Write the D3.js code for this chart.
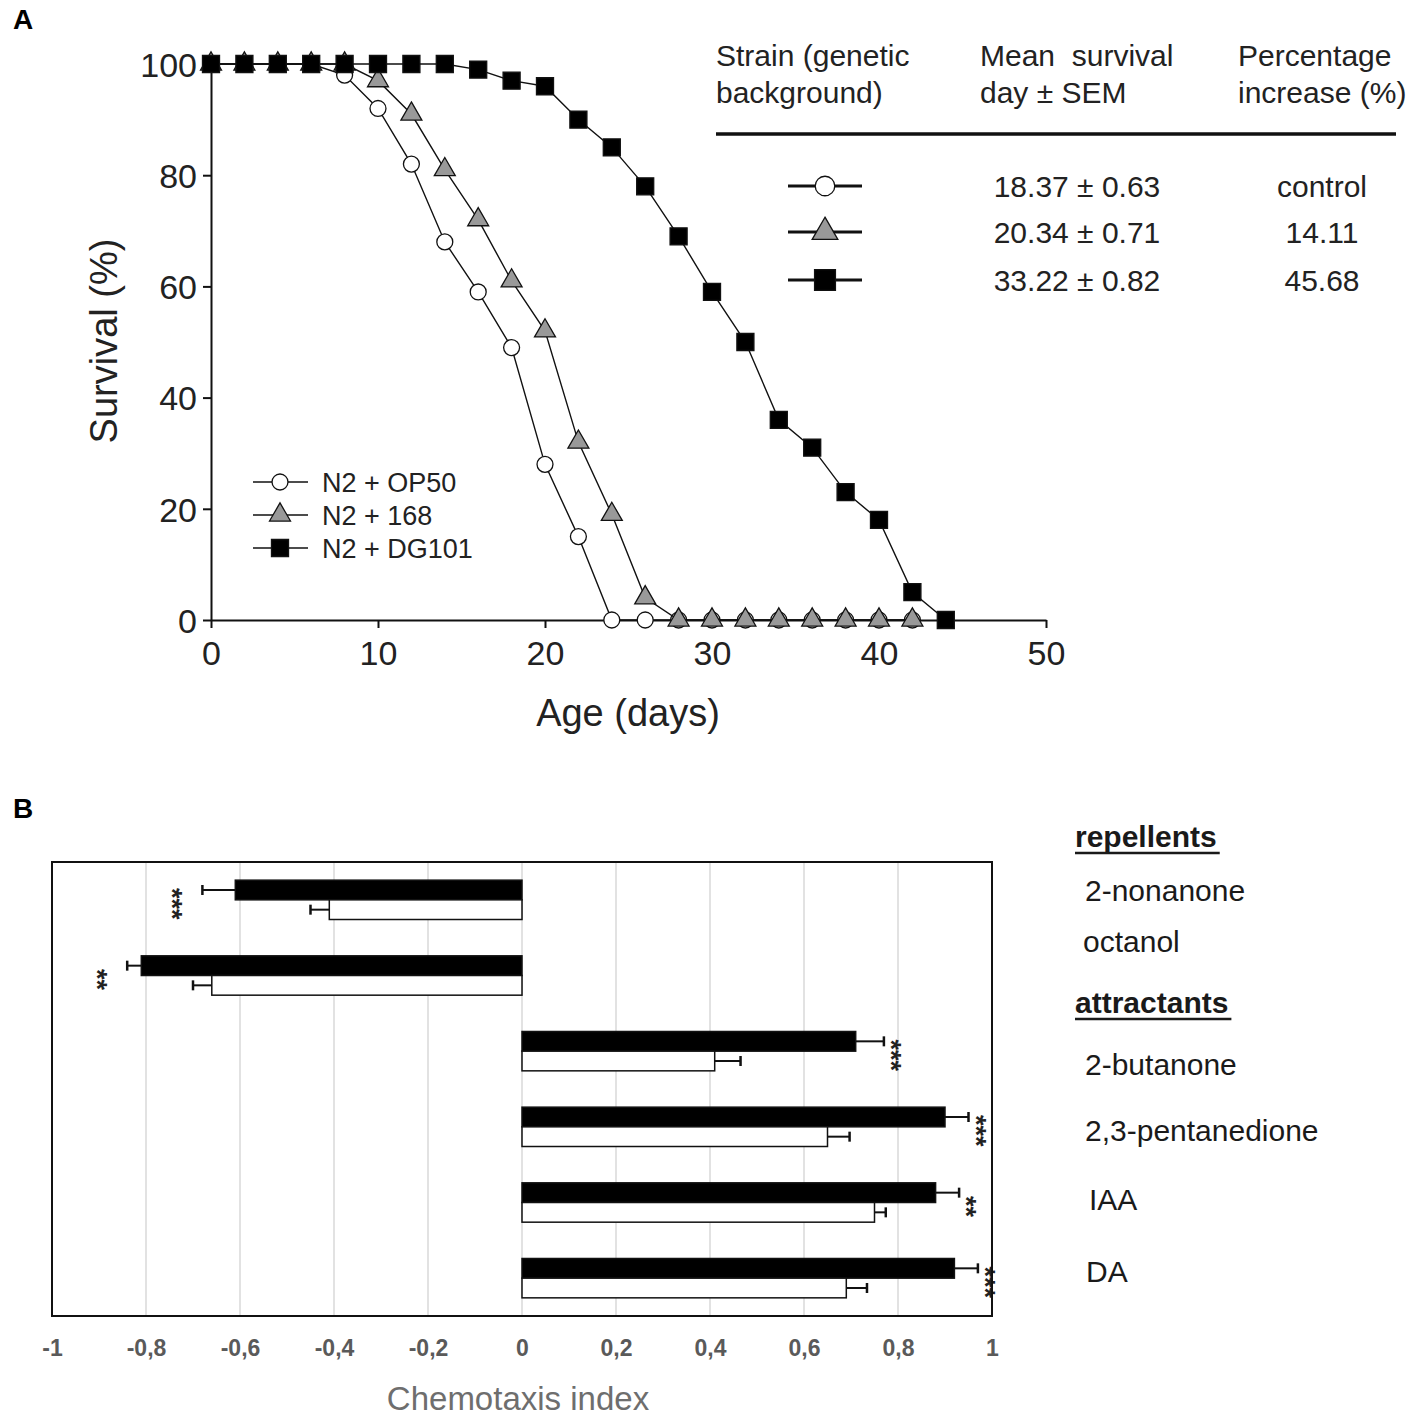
<!DOCTYPE html>
<html>
<head>
<meta charset="utf-8">
<script src="https://cdn.jsdelivr.net/npm/d3@7"></script>
<style>
  body { margin: 0; background: #fff; }
  text { font-family: "Liberation Sans", Arial, sans-serif; }
</style>
</head>
<body>
<div class="figure"></div>
<script>
// ---- panel A data : survival (%) every 2 days ----
const days = [0, 2, 4, 6, 8, 10, 12, 14, 16, 18, 20, 22, 24, 26, 28, 30, 32, 34, 36, 38, 40, 42, 44];
const op50 = [100, 100, 100, 100, 98, 92, 82, 68, 59, 49, 28, 15, 0, 0, 0, 0, 0, 0, 0, 0, 0, 0];
const b168 = [100, 100, 100, 100, 100, 97, 91, 81, 72, 61, 52, 32, 19, 4, 0, 0, 0, 0, 0, 0, 0, 0];
const dg101 = [100, 100, 100, 100, 100, 100, 100, 100, 99, 97, 96, 90, 85, 78, 69, 59, 50, 36, 31, 23, 18, 5, 0];
const legendNames = ['N2 + OP50', 'N2 + 168', 'N2 + DG101'];
const ageTicks = [0, 10, 20, 30, 40, 50];
const survTicks = [0, 20, 40, 60, 80, 100];

// table in panel A
const tableHeader = [['Strain (genetic', 'background)'], ['Mean  survival', 'day ± SEM'], ['Percentage', 'increase (%)']];
const meanSurvival = ['18.37 ± 0.63', '20.34 ± 0.71', '33.22 ± 0.82'];
const pctIncrease = ['control', '14.11', '45.68'];

// ---- panel B data : chemotaxis index ----
const odorants = ['2-nonanone', 'octanol', '2-butanone', '2,3-pentanedione', 'IAA', 'DA'];
const ciDG101 = [-0.61, -0.81, 0.71, 0.90, 0.88, 0.92];
const errDG101 = [0.07, 0.03, 0.06, 0.05, 0.05, 0.05];
const ciOP50 = [-0.41, -0.66, 0.41, 0.65, 0.75, 0.69];
const errOP50 = [0.04, 0.04, 0.055, 0.047, 0.024, 0.044];
const stars = ['***', '**', '***', '***', '**', '***'];
const ciTicks = [-1, -0.8, -0.6, -0.4, -0.2, 0, 0.2, 0.4, 0.6, 0.8, 1];

const svg = d3.select('.figure')
    .append('svg')
    .attr('width', 1418)
    .attr('height', 1418)
    .style('display', 'block');

svg.append('rect').attr('width', 1418).attr('height', 1418).attr('fill', '#fff');

// panel letters
svg.append('text').attr('x', 13).attr('y', 29).style('font-size', '28px').style('font-weight', 'bold').text('A');
svg.append('text').attr('x', 13).attr('y', 818).style('font-size', '28px').style('font-weight', 'bold').text('B');

// ================= PANEL A =================
const xA = d3.scaleLinear().domain([0, 50]).range([211, 1046]);
const yA = d3.scaleLinear().domain([0, 100]).range([620, 64]);

const yAxisA = d3.axisLeft(yA).tickValues(survTicks).tickSize(8).tickSizeOuter(0).tickPadding(6);
const xAxisA = d3.axisBottom(xA).tickValues(ageTicks).tickSize(8).tickSizeOuter(0).tickPadding(13);

const gy = svg.append('g').attr('transform', `translate(${xA(0)},0)`).call(yAxisA);
const gx = svg.append('g').attr('transform', `translate(0,${yA(0)})`).call(xAxisA);
[gx, gy].forEach(g => {
    g.selectAll('path, line').attr('stroke', '#111').attr('stroke-width', 2);
    g.selectAll('text').style('font-size', '34px').attr('fill', '#222').style('font-family', '"Liberation Sans", Arial, sans-serif');
});
gy.selectAll('text').attr('dy', '0.36em');

svg.append('text')
    .attr('x', 628).attr('y', 726)
    .attr('text-anchor', 'middle')
    .style('font-size', '38px').attr('fill', '#222')
    .text('Age (days)');
svg.append('text')
    .attr('transform', 'translate(117,341) rotate(-90)')
    .attr('text-anchor', 'middle')
    .style('font-size', '38px').attr('fill', '#222')
    .text('Survival (%)');

const series = [
    { name: legendNames[0], values: op50, shape: d3.symbolCircle, size: 200, fill: '#fff' },
    { name: legendNames[1], values: b168, shape: d3.symbolTriangle, size: 190, fill: '#999' },
    { name: legendNames[2], values: dg101, shape: d3.symbolSquare, size: 290, fill: '#000' }
];

const lineA = d3.line().x(d => xA(d.day)).y(d => yA(d.v));

series.forEach(s => {
    const pts = s.values.map((v, i) => ({ day: days[i], v: v }));
    svg.append('path')
        .datum(pts)
        .attr('d', lineA)
        .attr('fill', 'none')
        .attr('stroke', '#111')
        .attr('stroke-width', 1.4);
    svg.append('g')
        .selectAll('path')
        .data(pts)
        .enter()
        .append('path')
        .attr('transform', d => `translate(${xA(d.day)},${yA(d.v)})`)
        .attr('d', d3.symbol().type(s.shape).size(s.size))
        .attr('fill', s.fill)
        .attr('stroke', '#111')
        .attr('stroke-width', 1.3);
});

// legend inside the plot
const legA = svg.append('g').attr('class', 'legend-a');
series.forEach((s, i) => {
    const y = 482 + i * 33;
    legA.append('line').attr('x1', 253).attr('x2', 308).attr('y1', y).attr('y2', y)
        .attr('stroke', '#111').attr('stroke-width', 1.6);
    legA.append('path')
        .attr('transform', `translate(280,${y})`)
        .attr('d', d3.symbol().type(s.shape).size(s.size))
        .attr('fill', s.fill).attr('stroke', '#111').attr('stroke-width', 1.3);
    legA.append('text').attr('x', 322).attr('y', y + 10)
        .style('font-size', '27px').attr('fill', '#222')
        .text(s.name);
});

// table
const colX = [716, 980, 1238];
tableHeader.forEach((lines, c) => {
    lines.forEach((t, j) => {
        svg.append('text').attr('x', colX[c]).attr('y', 66 + j * 37)
            .style('font-size', '30px').attr('fill', '#222')
            .style('white-space', 'pre')
            .text(t);
    });
});
svg.append('line').attr('x1', 716).attr('x2', 1396).attr('y1', 134).attr('y2', 134)
    .attr('stroke', '#111').attr('stroke-width', 3.5);

const rowY = [186, 232, 280];
series.forEach((s, i) => {
    const y = rowY[i];
    svg.append('line').attr('x1', 788).attr('x2', 862).attr('y1', y).attr('y2', y)
        .attr('stroke', '#111').attr('stroke-width', 3);
    svg.append('path')
        .attr('transform', `translate(825,${y})`)
        .attr('d', d3.symbol().type(s.shape).size(s.size * 1.5))
        .attr('fill', s.fill).attr('stroke', '#111').attr('stroke-width', 1.3);
    svg.append('text').attr('x', 1077).attr('y', y + 11).attr('text-anchor', 'middle')
        .style('font-size', '30px').attr('fill', '#222').text(meanSurvival[i]);
    svg.append('text').attr('x', 1322).attr('y', y + 11).attr('text-anchor', 'middle')
        .style('font-size', '30px').attr('fill', '#222').text(pctIncrease[i]);
});

// ================= PANEL B =================
const boxTop = 862, boxBottom = 1316;
const xB = d3.scaleLinear().domain([-1, 1]).range([52, 992]);
const yB = d3.scaleBand().domain(odorants).range([boxTop, boxBottom]).paddingInner(0.48).paddingOuter(0.24);
const ySub = d3.scaleBand().domain(['DG101', 'OP50']).range([0, yB.bandwidth()]);

// grid lines
svg.append('g')
    .selectAll('line')
    .data(ciTicks.slice(1, -1))
    .enter()
    .append('line')
    .attr('x1', d => xB(d)).attr('x2', d => xB(d))
    .attr('y1', boxTop).attr('y2', boxBottom)
    .attr('stroke', '#d9d9d9').attr('stroke-width', 1.5);

const barData = [];
odorants.forEach((o, i) => {
    barData.push({ cat: o, grp: 'DG101', v: ciDG101[i], e: errDG101[i] });
    barData.push({ cat: o, grp: 'OP50', v: ciOP50[i], e: errOP50[i] });
});

const bars = svg.append('g').attr('class', 'bars');
bars.selectAll('line.err')
    .data(barData)
    .enter()
    .append('line')
    .attr('class', 'err')
    .attr('x1', d => xB(d.v))
    .attr('x2', d => xB(d.v + Math.sign(d.v) * d.e))
    .attr('y1', d => yB(d.cat) + ySub(d.grp) + ySub.bandwidth() / 2)
    .attr('y2', d => yB(d.cat) + ySub(d.grp) + ySub.bandwidth() / 2)
    .attr('stroke', '#111').attr('stroke-width', 2);
bars.selectAll('line.cap')
    .data(barData)
    .enter()
    .append('line')
    .attr('class', 'cap')
    .attr('x1', d => xB(d.v + Math.sign(d.v) * d.e))
    .attr('x2', d => xB(d.v + Math.sign(d.v) * d.e))
    .attr('y1', d => yB(d.cat) + ySub(d.grp) + ySub.bandwidth() / 2 - 5)
    .attr('y2', d => yB(d.cat) + ySub(d.grp) + ySub.bandwidth() / 2 + 5)
    .attr('stroke', '#111').attr('stroke-width', 2.5);
bars.selectAll('rect')
    .data(barData)
    .enter()
    .append('rect')
    .attr('x', d => Math.min(xB(0), xB(d.v)))
    .attr('width', d => Math.abs(xB(d.v) - xB(0)))
    .attr('y', d => yB(d.cat) + ySub(d.grp))
    .attr('height', ySub.bandwidth())
    .attr('fill', d => d.grp === 'DG101' ? '#000' : '#fff')
    .attr('stroke', '#111').attr('stroke-width', 1.5);

// significance stars (rotated)
const starG = svg.append('g');
odorants.forEach((o, i) => {
    const end = ciDG101[i] + Math.sign(ciDG101[i]) * errDG101[i];
    const cx = ciDG101[i] > 0 ? xB(end) + 13 : xB(end) - 24;
    const cy = yB(o) + yB.bandwidth() / 2 + 4;
    starG.append('text')
        .attr('transform', `translate(${cx - 15},${cy}) rotate(90)`)
        .attr('text-anchor', 'middle')
        .style('font-size', '27px').style('font-weight', 'bold').attr('fill', '#222')
        .text(stars[i]);
});

// frame
svg.append('rect')
    .attr('x', xB(-1)).attr('y', boxTop)
    .attr('width', xB(1) - xB(-1)).attr('height', boxBottom - boxTop)
    .attr('fill', 'none').attr('stroke', '#111').attr('stroke-width', 2);

// x axis labels
const xAxisB = d3.axisBottom(xB).tickValues(ciTicks).tickSize(0).tickPadding(24)
    .tickFormat(d => d3.format('~g')(d).replace('.', ',').replace('−', '-'));
const gxB = svg.append('g').attr('transform', `translate(0,${boxBottom})`).call(xAxisB);
gxB.select('.domain').remove();
gxB.selectAll('text')
    .style('font-size', '23px').style('font-weight', 'bold')
    .style('font-family', '"Liberation Sans", Arial, sans-serif')
    .attr('fill', '#5a5a5a');

svg.append('text')
    .attr('x', 518).attr('y', 1410)
    .attr('text-anchor', 'middle')
    .style('font-size', '33px').attr('fill', '#6e6e6e')
    .text('Chemotaxis index');

// category labels on the right
const headY = [847, 1013];
const headTxt = ['repellents', 'attractants'];
headTxt.forEach((t, i) => {
    const txt = svg.append('text').attr('x', 1075).attr('y', headY[i])
        .style('font-size', '30px').style('font-weight', 'bold').attr('fill', '#1a1a1a')
        .text(t);
    const w = txt.node().getComputedTextLength();
    svg.append('line').attr('x1', 1075).attr('x2', 1075 + w + 3)
        .attr('y1', headY[i] + 6).attr('y2', headY[i] + 6)
        .attr('stroke', '#1a1a1a').attr('stroke-width', 2.5);
});
const labelX = [1085, 1083, 1085, 1085, 1089, 1086];
const labelY = [901, 952, 1075, 1141, 1210, 1282];
odorants.forEach((o, i) => {
    svg.append('text').attr('x', labelX[i]).attr('y', labelY[i])
        .style('font-size', '30px').attr('fill', '#1a1a1a')
        .text(o);
});
</script>
</body>
</html>
